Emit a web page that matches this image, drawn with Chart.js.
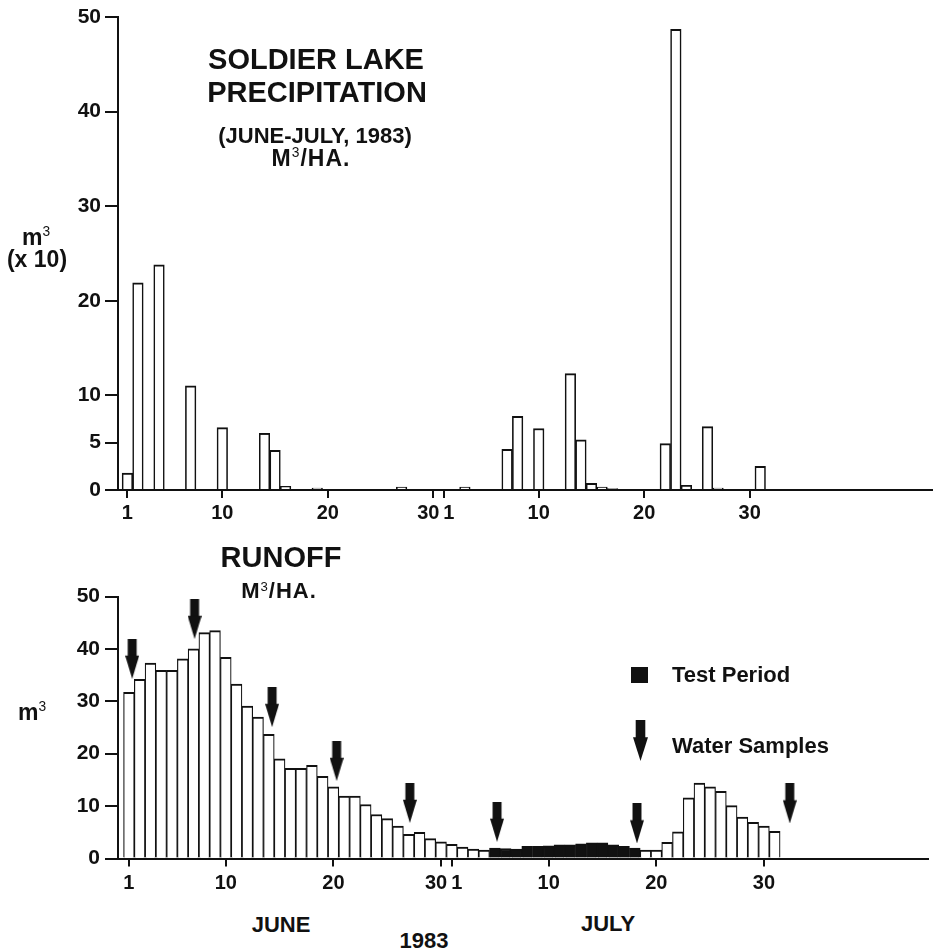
<!DOCTYPE html>
<html>
<head>
<meta charset="utf-8">
<script src="https://cdn.jsdelivr.net/npm/chart.js@4.4.0/dist/chart.umd.min.js"></script>
<style>
    body { margin: 0; background: #fff; }
    #wrap { position: relative; width: 933px; height: 952px; font-family: 'Liberation Sans', Arial, sans-serif; font-weight: bold; color: #111; }
    canvas { position: absolute; left: 0; }
    .t { position: absolute; transform: translate(-50%, -50%); white-space: nowrap; line-height: 1; }
    .l { position: absolute; transform: translateY(-50%); white-space: nowrap; line-height: 1; }
    .sup { font-size: 60%; font-weight: normal; vertical-align: 0.6em; }
</style>
</head>
<body>
<div id="wrap">
    <canvas id="precipChart" width="933" height="545" style="top:0"></canvas>
    <canvas id="runoffChart" width="933" height="340" style="top:560px"></canvas>

    <div class="t" style="left:316px; top:59px; font-size:29px;">SOLDIER LAKE</div>
    <div class="t" style="left:317px; top:92px; font-size:29px;">PRECIPITATION</div>
    <div class="t" style="left:315px; top:136px; font-size:22px;">(JUNE-JULY, 1983)</div>
    <div class="t" style="left:311px; top:158px; font-size:23px; letter-spacing:1px;">M<span class="sup">3</span>/HA.</div>
    <div class="t" style="left:36px; top:237px; font-size:23px;">m<span class="sup">3</span></div>
    <div class="t" style="left:37px; top:259px; font-size:23px;">(x 10)</div>

    <div class="t" style="left:281px; top:557px; font-size:29px;">RUNOFF</div>
    <div class="t" style="left:279px; top:591px; font-size:22px; letter-spacing:1px;">M<span class="sup">3</span>/HA.</div>
    <div class="t" style="left:32px; top:712px; font-size:23px;">m<span class="sup">3</span></div>

    <div style="position:absolute; left:631px; top:667px; width:17px; height:16px; background:#111;"></div>
    <div class="l" style="left:672px; top:675px; font-size:22px;">Test Period</div>
    <canvas id="legendArrow" width="15" height="41" style="left:633px; top:720px;"></canvas>
    <div class="l" style="left:672px; top:746px; font-size:22px;">Water Samples</div>

    <div class="t" style="left:281px; top:925px; font-size:22px;">JUNE</div>
    <div class="t" style="left:424px; top:941px; font-size:22px;">1983</div>
    <div class="t" style="left:608px; top:924px; font-size:22px;">JULY</div>
</div>

<script>
// 강수량 (m3 x 10), 0 = 비 없음
const precipJune = [1.8, 21.9, 0, 23.8, 0, 0, 11.0, 0, 0, 6.6,
                    0, 0, 0, 6.0, 4.2, 0.4, 0, 0, 0.2, 0,
                    0, 0, 0, 0, 0, 0, 0.3, 0, 0, 0];
const precipJuly = [0, 0, 0.3, 0, 0, 0, 4.3, 7.8, 0, 6.5,
                    0, 0, 12.3, 5.3, 0.7, 0.3, 0.15, 0, 0, 0,
                    0, 4.9, 48.7, 0.5, 0, 6.7, 0.2, 0, 0, 0, 2.5];

// 유출량 (m3/ha)
const runoffJune = [31.7, 34.2, 37.3, 35.9, 35.9, 38.1, 40.0, 43.1, 43.5, 38.4,
                    33.3, 29.1, 27.0, 23.7, 19.0, 17.2, 17.2, 17.8, 15.7, 13.7,
                    11.9, 11.9, 10.3, 8.4, 7.6, 6.2, 4.6, 5.0, 3.8, 3.2];
const runoffJuly = [2.7, 2.2, 1.8, 1.6, 2.0, 1.9, 1.8, 2.3, 2.3, 2.4,
                    2.6, 2.6, 2.8, 3.0, 3.0, 2.6, 2.3, 2.0, 1.6, 1.6,
                    3.1, 5.1, 11.6, 14.4, 13.7, 12.8, 10.1, 7.9, 6.9, 6.2, 5.2];

// 시험 기간 (일 번호: 6/1 = 1, 7/1 = 31)
const testPeriod = [35, 48];

// 물 시료 채취 화살표 (일 번호, 높이)
const sampleDays = [1.3, 7.1, 14.3, 20.3, 27.1, 35.2, 48.2, 62.4];
const sampleLevels = [38.1, 45.7, 28.9, 18.6, 10.6, 7.0, 6.7, 10.5];

// 축 눈금
const xTickDays = [1, 10, 20, 30, 31, 40, 50, 60];
const xTickLabels = ['1', '10', '20', '30', '1', '10', '20', '30'];
const yTicksTop = [0, 5, 10, 20, 30, 40, 50];
const yTicksBottom = [0, 10, 20, 30, 40, 50];

const dayNums = precipJune.map((v, i) => i + 1).concat(precipJuly.map((v, i) => 31 + i));
const precipAll = precipJune.concat(precipJuly);
const runoffAll = runoffJune.concat(runoffJuly);

const INK = '#111';
const tickFont = { family: "'Liberation Sans', Arial, sans-serif", size: 21, weight: 'bold' };

// 화살표 그림
function makeArrow(w, h) {
    const c = document.createElement('canvas');
    c.width = w;
    c.height = h;
    drawArrow(c.getContext('2d'), w, h);
    return c;
}

function drawArrow(g, w, h) {
    const shaftW = w * 0.64;
    const headTop = h * 0.42;
    g.fillStyle = INK;
    g.fillRect((w - shaftW) / 2, 0, shaftW, headTop + 1);
    g.beginPath();
    g.moveTo(0, headTop);
    g.lineTo(w, headTop);
    g.lineTo(w / 2, h);
    g.closePath();
    g.fill();
}

// 6월 30일과 7월 1일 라벨이 붙지 않도록 띄움
function tickLabel(i) {
    const lbl = xTickLabels[i];
    if (xTickDays[i] === 30) return lbl + '\u2002';
    if (xTickDays[i] === 31) return '\u2002' + lbl;
    return lbl;
}

function xAxis(min, max, pad, height) {
    return {
        type: 'linear',
        min: min,
        max: max,
        offset: false,
        afterBuildTicks: s => { s.ticks = xTickDays.map(v => ({ value: v })); },
        afterFit: s => { s.height = height; },
        ticks: {
            autoSkip: false,
            maxRotation: 0,
            padding: pad,
            color: INK,
            font: { family: tickFont.family, size: 20, weight: 'bold' },
            callback: (v, i) => tickLabel(i)
        },
        grid: { drawOnChartArea: false, drawTicks: true, tickLength: 8, color: INK, lineWidth: 2, offset: false },
        border: { display: true, color: INK, width: 2 }
    };
}

function yAxis(ticks, pad) {
    return {
        min: 0,
        max: 50,
        afterBuildTicks: s => { s.ticks = ticks.map(v => ({ value: v })); },
        afterFit: s => { s.width = 118; },
        ticks: { autoSkip: false, padding: pad, color: INK, font: tickFont },
        grid: { drawOnChartArea: false, drawTicks: true, tickLength: 13, color: INK, lineWidth: 2 },
        border: { display: true, color: INK, width: 2 }
    };
}

const baseOptions = {
    responsive: false,
    animation: false,
    devicePixelRatio: 1,
    events: [],
    plugins: { legend: { display: false }, tooltip: { enabled: false } }
};

// 강수량 차트
new Chart(document.getElementById('precipChart'), {
    type: 'bar',
    data: {
        labels: dayNums,
        datasets: [{
            data: precipAll.map(v => v > 0 ? v : null),
            backgroundColor: '#fff',
            borderColor: INK,
            borderWidth: { top: 2, left: 1.6, right: 1.6, bottom: 0 },
            borderSkipped: 'start',
            categoryPercentage: 1,
            barPercentage: 1
        }]
    },
    options: {
        ...baseOptions,
        layout: { padding: { top: 17, left: 0, right: 0, bottom: 0 } },
        scales: {
            x: xAxis(0.11, 77.38, 3, 55),
            y: yAxis(yTicksTop, 4)
        }
    }
});

// 유출량 차트
const arrowImg = makeArrow(14, 40);

new Chart(document.getElementById('runoffChart'), {
    type: 'bar',
    data: {
        labels: dayNums,
        datasets: [{
            type: 'scatter',
            data: sampleDays.map((d, i) => ({ x: d, y: sampleLevels[i] })),
            pointStyle: arrowImg,
            clip: false
        }, {
            data: runoffAll,
            backgroundColor: ctx => {
                const d = dayNums[ctx.dataIndex];
                return d >= testPeriod[0] && d <= testPeriod[1] ? INK : '#fff';
            },
            borderColor: INK,
            borderWidth: { top: 2, left: 1.2, right: 1.2, bottom: 0 },
            borderSkipped: 'start',
            categoryPercentage: 1,
            barPercentage: 1
        }]
    },
    options: {
        ...baseOptions,
        layout: { padding: { top: 36.5, left: 0, right: 0, bottom: 0 } },
        scales: {
            x: xAxis(-0.016, 75.24, 5, 41.5),
            y: yAxis(yTicksBottom, 5)
        }
    }
});

// 범례 화살표
drawArrow(document.getElementById('legendArrow').getContext('2d'), 15, 41);
</script>
</body>
</html>
